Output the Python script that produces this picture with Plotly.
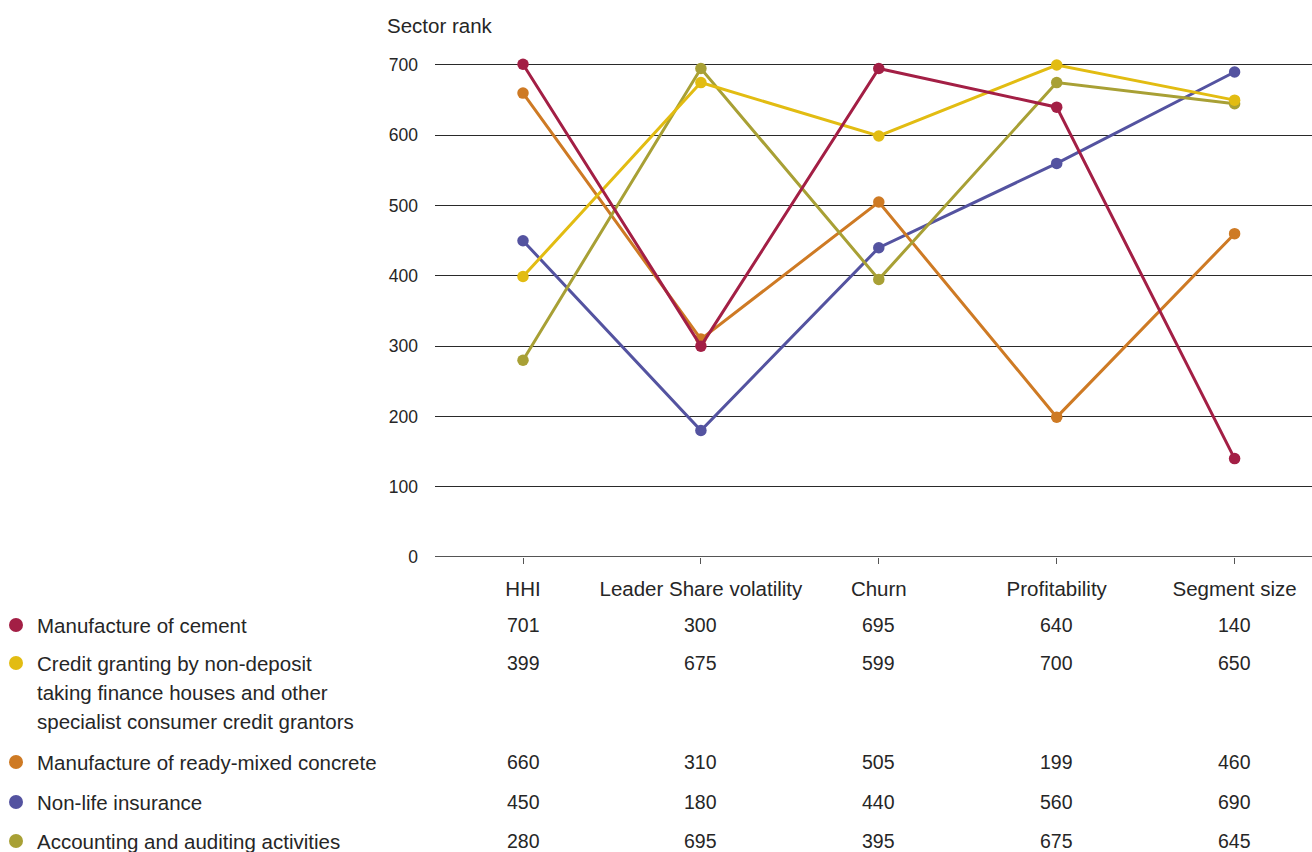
import plotly.graph_objects as go

# Chart data
categories = ["HHI", "Leader Share volatility", "Churn", "Profitability", "Segment size"]
series_names = [
    ["Manufacture of cement"],
    ["Credit granting by non-deposit",
     "taking finance houses and other",
     "specialist consumer credit grantors"],
    ["Manufacture of ready-mixed concrete"],
    ["Non-life insurance"],
    ["Accounting and auditing activities"],
]
cement = [701, 300, 695, 640, 140]
credit = [399, 675, 599, 700, 650]
concrete = [660, 310, 505, 199, 460]
nonlife = [450, 180, 440, 560, 690]
accounting = [280, 695, 395, 675, 645]
y_ticks = [0, 100, 200, 300, 400, 500, 600, 700]

colors = ["#A31F45", "#E2BC12", "#CE7A24", "#5453A0", "#A8A035"]
series = [cement, credit, concrete, nonlife, accounting]

W, H = 1312, 852
FONT = "Liberation Sans, Arial, sans-serif"
TXT = "#262626"
LABEL_SIZE = 20.5
NUM_SIZE = 19.5
LINE_GAP = 29

# plot area in pixels (0 at y=557, 700 at y=65)
left, right, bottom = 435, 1312, 557
px_per_unit = (557 - 65) / 700
y_max = 705
top = bottom - y_max * px_per_unit

fig = go.Figure()

# draw order: cement on top
order = [3, 2, 4, 1, 0]
xs = list(range(len(categories)))
for i in order:
    fig.add_trace(go.Scatter(
        x=xs, y=series[i], mode="lines+markers",
        line=dict(color=colors[i], width=3),
        marker=dict(color=colors[i], size=11.5),
        cliponaxis=False, showlegend=False, hoverinfo="skip",
    ))

# table rows under the chart: legend dot, label lines and the values per category
row_y = [625, 663, 762, 802, 841]
for i in range(len(series)):
    fig.add_trace(go.Scatter(
        x=[16], y=[row_y[i]], xaxis="x2", yaxis="y2", mode="markers",
        marker=dict(color=colors[i], size=14), showlegend=False, hoverinfo="skip",
    ))
    for k, line in enumerate(series_names[i]):
        fig.add_annotation(
            x=35, y=row_y[i] + k * LINE_GAP, xref="x2", yref="y2", text=line,
            showarrow=False, xanchor="left", yanchor="middle",
            font=dict(family=FONT, size=LABEL_SIZE, color=TXT),
        )
    for j, v in enumerate(series[i]):
        fig.add_annotation(
            x=j, y=row_y[i], xref="x", yref="y2", text=str(v), showarrow=False,
            xanchor="center", yanchor="middle", font=dict(family=FONT, size=NUM_SIZE, color=TXT),
        )

fig.add_annotation(
    x=385, y=25, xref="x2", yref="y2", text="Sector rank", showarrow=False,
    xanchor="left", yanchor="middle", font=dict(family=FONT, size=LABEL_SIZE, color=TXT),
)

px_per_cat = 177.9
x0 = -(523 - left) / px_per_cat
x1 = x0 + (right - left) / px_per_cat

fig.update_layout(
    template="none",
    width=W, height=H,
    margin=dict(l=0, r=0, t=0, b=0, pad=0),
    paper_bgcolor="white", plot_bgcolor="rgba(0,0,0,0)",
    xaxis=dict(
        domain=[left / W, right / W], range=[x0, x1], automargin=False,
        tickmode="array", tickvals=xs, ticktext=categories,
        ticks="outside", ticklen=6, tickcolor="#555555", tickwidth=1,
        ticklabelstandoff=7,
        showgrid=False, zeroline=False, showline=False,
        tickfont=dict(family=FONT, size=LABEL_SIZE, color=TXT), anchor="y",
    ),
    yaxis=dict(
        domain=[(H - bottom) / H, (H - top) / H], range=[0, y_max], automargin=False,
        tickmode="array", tickvals=y_ticks,
        showgrid=True, gridcolor="#2a2a2a", gridwidth=1,
        zeroline=True, zerolinecolor="#555555", zerolinewidth=1,
        showline=False, ticks="", ticklabelstandoff=16,
        tickfont=dict(family=FONT, size=17.5, color=TXT), anchor="x",
    ),
    xaxis2=dict(domain=[0, 1], range=[0, W], visible=False, anchor="y2", automargin=False),
    yaxis2=dict(domain=[0, 1], range=[H, 0], visible=False, anchor="x2", automargin=False),
)

fig.write_html("out.html")
